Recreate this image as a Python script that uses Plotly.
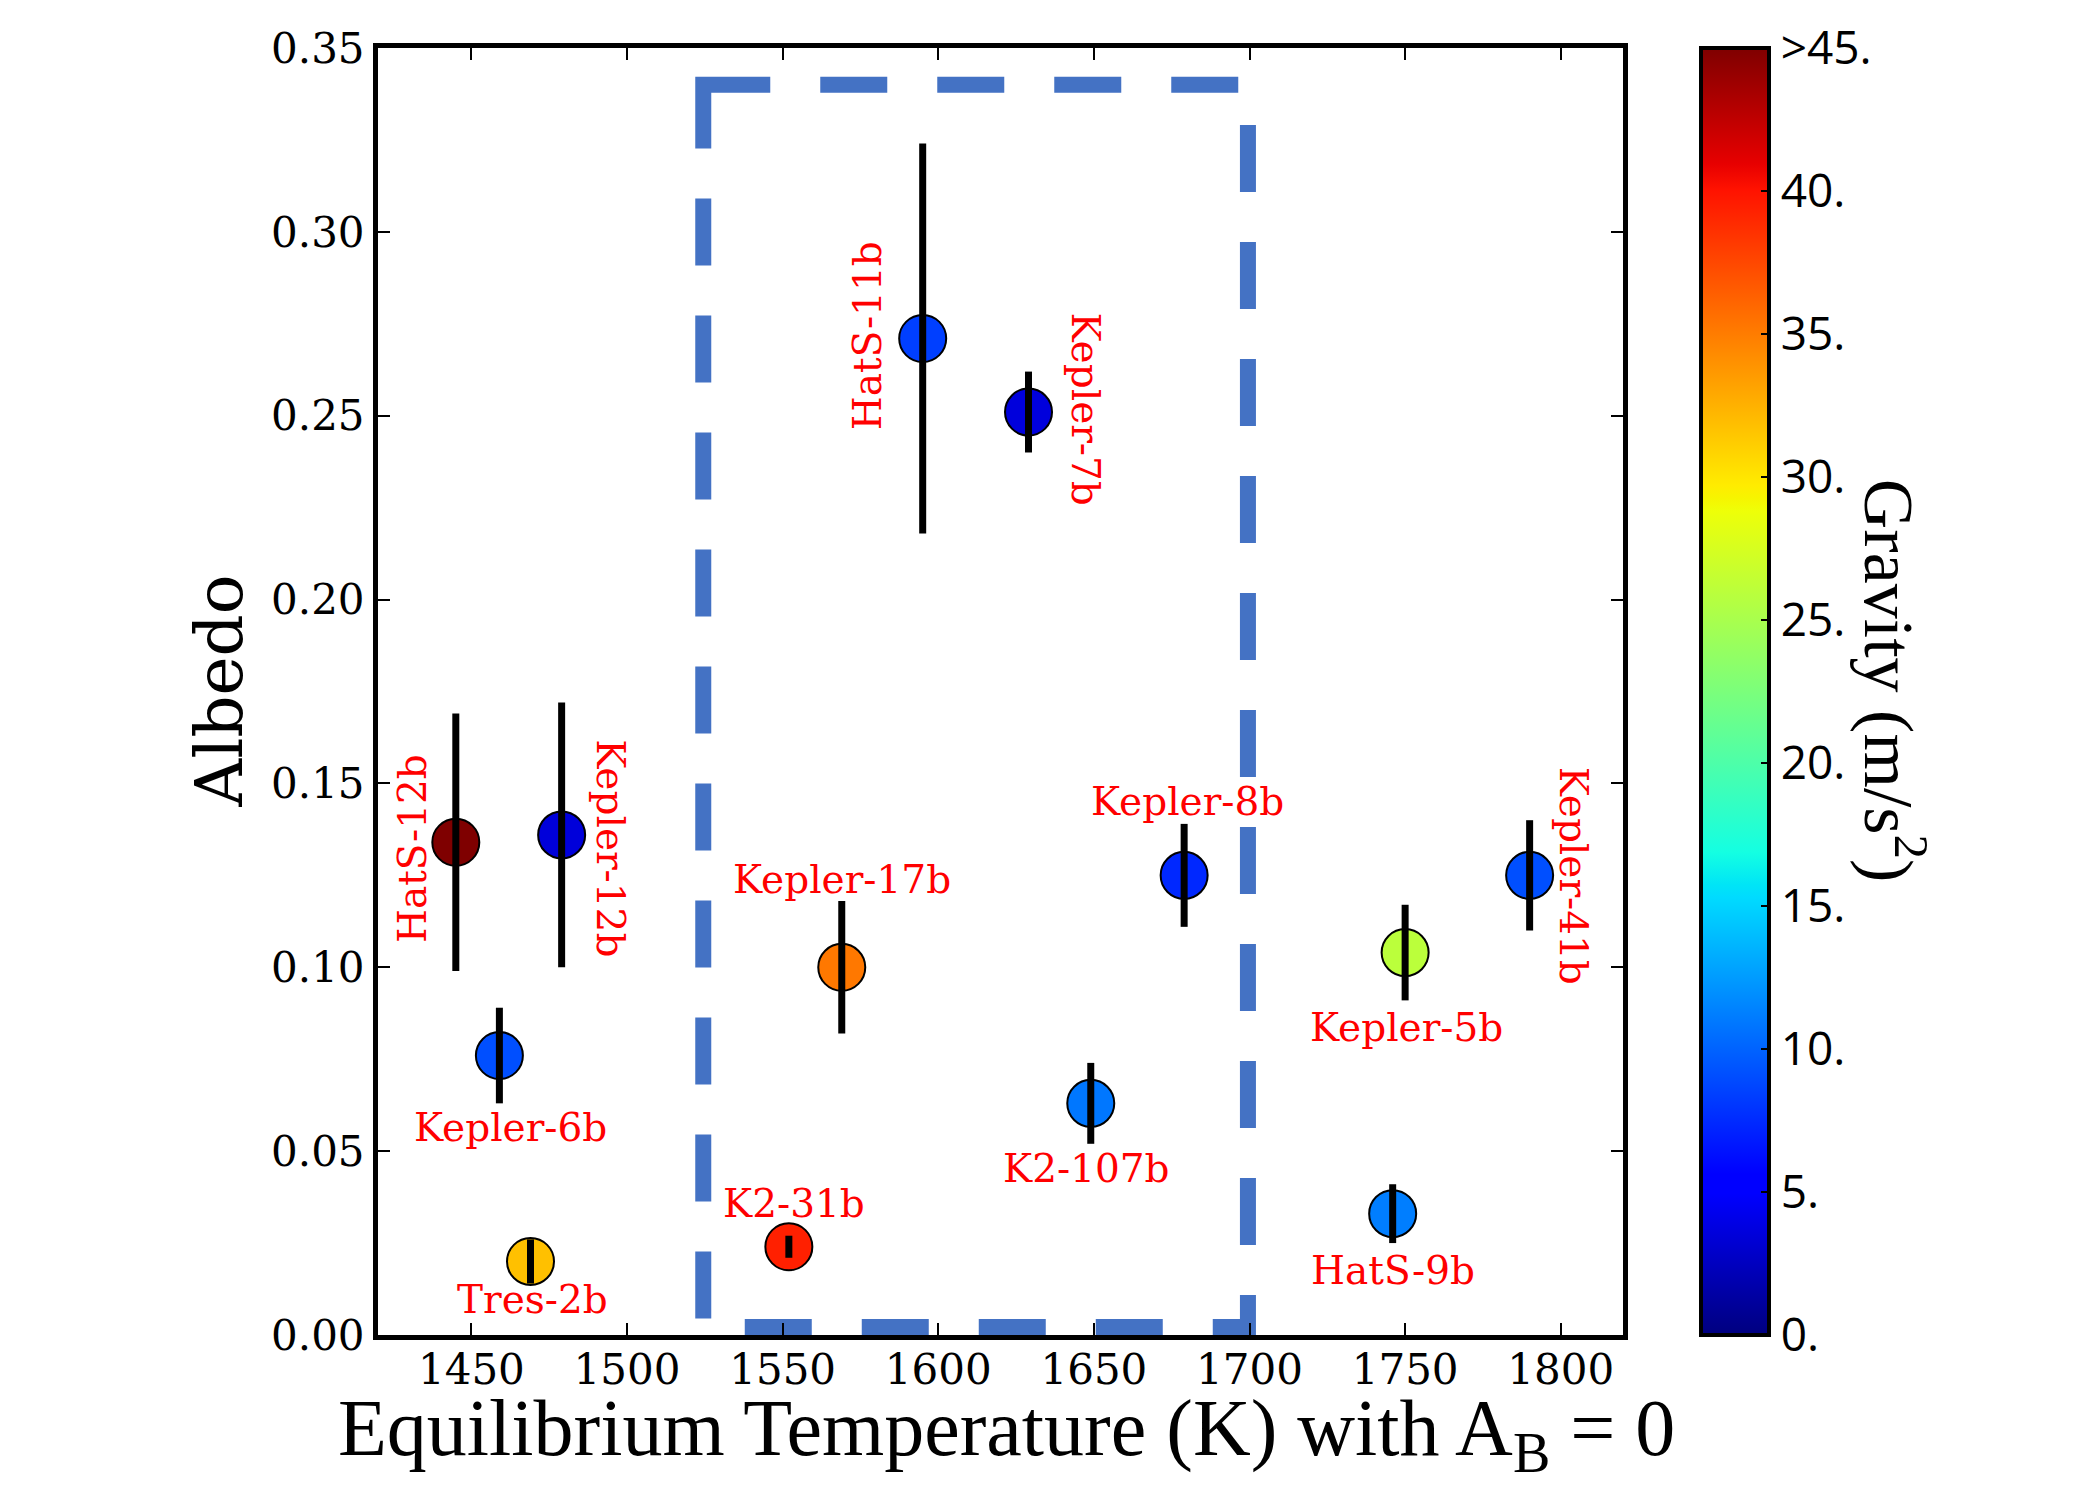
import numpy as np
import plotly.graph_objects as go

# planets: equilibrium temperature (K, A_B = 0), albedo, albedo error, surface gravity (m/s^2)
names = ['HatS-12b', 'Kepler-12b', 'Kepler-6b', 'Tres-2b', 'K2-31b', 'Kepler-17b',
         'HatS-11b', 'Kepler-7b', 'Kepler-8b', 'K2-107b', 'Kepler-5b', 'HatS-9b', 'Kepler-41b']
teq = [1445, 1479, 1459, 1469, 1552, 1569, 1595, 1629, 1679, 1649, 1750, 1746, 1790]
albedo = [0.134, 0.136, 0.076, 0.020, 0.024, 0.100, 0.271, 0.251, 0.125, 0.063, 0.104, 0.033, 0.125]
albedo_err = [0.035, 0.036, 0.013, 0.006, 0.003, 0.018, 0.053, 0.011, 0.014, 0.011, 0.013, 0.008, 0.015]
gravity = [48, 3.5, 9.1, 31.8, 39.4, 35.2, 8.4, 3.6, 7.4, 10.9, 26, 11.2, 9.1]

# label placement: (xshift px, yshift px, text angle)
label_pos = {
    'HatS-12b': (-44, -6, -90), 'Kepler-12b': (48, -13, 90), 'Kepler-6b': (11, -72, 0),
    'Tres-2b': (2, -38, 0), 'K2-31b': (5, 43, 0), 'Kepler-17b': (0, 88, 0),
    'HatS-11b': (-55, 3, -90), 'Kepler-7b': (57, 3, 90), 'Kepler-8b': (3, 74, 0),
    'K2-107b': (-4, -65, 0), 'Kepler-5b': (1, -75, 0), 'HatS-9b': (0, -57, 0),
    'Kepler-41b': (44, 0, 90),
}

# region highlighted with the dashed box
box_t = [1524.5, 1699.5]
box_a = [0.0022, 0.34]

cbar_vals = [0, 5, 10, 15, 20, 25, 30, 35, 40, 45]
cbar_text = ['0.', '5.', '10.', '15.', '20.', '25.', '30.', '35.', '40.', '>45.']

# matplotlib "jet" colormap as a plotly colorscale
stops = [0, 0.11, 0.125, 0.34, 0.35, 0.375, 0.64, 0.65, 0.66, 0.89, 0.91, 1]
r = np.interp(stops, [0, 0.35, 0.66, 0.89, 1], [0, 0, 1, 1, 0.5])
g = np.interp(stops, [0, 0.125, 0.375, 0.64, 0.91, 1], [0, 0, 1, 1, 0, 0])
b = np.interp(stops, [0, 0.11, 0.34, 0.65, 1], [0.5, 1, 1, 0, 0])
jet = [[s, f'rgb({int(rr*255)},{int(gg*255)},{int(bb*255)})'] for s, rr, gg, bb in zip(stops, r, g, b)]

mpl_serif = 'DejaVu Serif'
title_serif = 'Liberation Serif'

fig = go.Figure()

fig.add_shape(type='rect', xref='x', yref='y',
              x0=box_t[0], x1=box_t[1], y0=box_a[1], y1=box_a[0],
              line=dict(color='#4472c4', width=16, dash='67px,50px'), layer='below')

fig.add_trace(go.Scatter(
    x=teq, y=albedo, mode='markers', showlegend=False,
    marker=dict(size=47, color=gravity, colorscale=jet, cmin=0, cmax=45,
                line=dict(color='black', width=2),
                colorbar=dict(x=1.0623, xanchor='left', y=0.5, yanchor='middle',
                              len=1, lenmode='fraction', thickness=68, thicknessmode='pixels',
                              xpad=0, ypad=0, outlinewidth=4, outlinecolor='black',
                              ticks='inside', ticklen=10, tickwidth=2, tickcolor='black',
                              tickvals=cbar_vals, ticktext=cbar_text,
                              tickfont=dict(family='Open Sans', size=46, color='black'))),
))

# error bars drawn on top of the markers
fig.add_trace(go.Scatter(
    x=teq, y=albedo, mode='markers', showlegend=False, hoverinfo='skip',
    marker=dict(size=2, opacity=0),
    error_y=dict(type='data', array=albedo_err, visible=True, color='black', thickness=7, width=0),
))

for n, t, a in zip(names, teq, albedo):
    dx, dy, ang = label_pos[n]
    fig.add_annotation(x=t, y=a, xref='x', yref='y', text=n, showarrow=False,
                       xshift=dx, yshift=dy, textangle=ang,
                       font=dict(family=mpl_serif, size=39, color='red'))

# axis titles
fig.add_annotation(x=0.505, y=-0.077, xref='paper', yref='paper', showarrow=False,
                   text='Equilibrium Temperature (K) with A<sub>B</sub> = 0',
                   font=dict(family=title_serif, size=80, color='black'),
                   xanchor='center', yanchor='middle')
fig.add_annotation(x=-0.1277, y=0.5, xref='paper', yref='paper', showarrow=False,
                   text='Albedo', textangle=-90,
                   font=dict(family=mpl_serif, size=66, color='black'),
                   xanchor='center', yanchor='middle')
fig.add_annotation(x=1.218, y=0.508, xref='paper', yref='paper', showarrow=False,
                   text='Gravity (m/s<sup>2</sup>)', textangle=90,
                   font=dict(family=title_serif, size=70, color='black'),
                   xanchor='center', yanchor='middle')

axis_style = dict(showline=True, linewidth=5, linecolor='black', mirror='allticks',
                  ticks='inside', ticklen=12, tickwidth=2, tickcolor='black',
                  showgrid=False, zeroline=False,
                  tickfont=dict(family=mpl_serif, size=42, color='black'))

fig.update_xaxes(range=[1420, 1820], tickvals=[1450, 1500, 1550, 1600, 1650, 1700, 1750, 1800],
                 ticklabelstandoff=-6, **axis_style)
fig.update_yaxes(range=[0, 0.35], dtick=0.05, tick0=0, tickformat='.2f', **axis_style)

fig.update_layout(width=2100, height=1500, margin=dict(l=370, r=485, t=40, b=173),
                  plot_bgcolor='white', paper_bgcolor='white')

fig.write_html('out.html')
